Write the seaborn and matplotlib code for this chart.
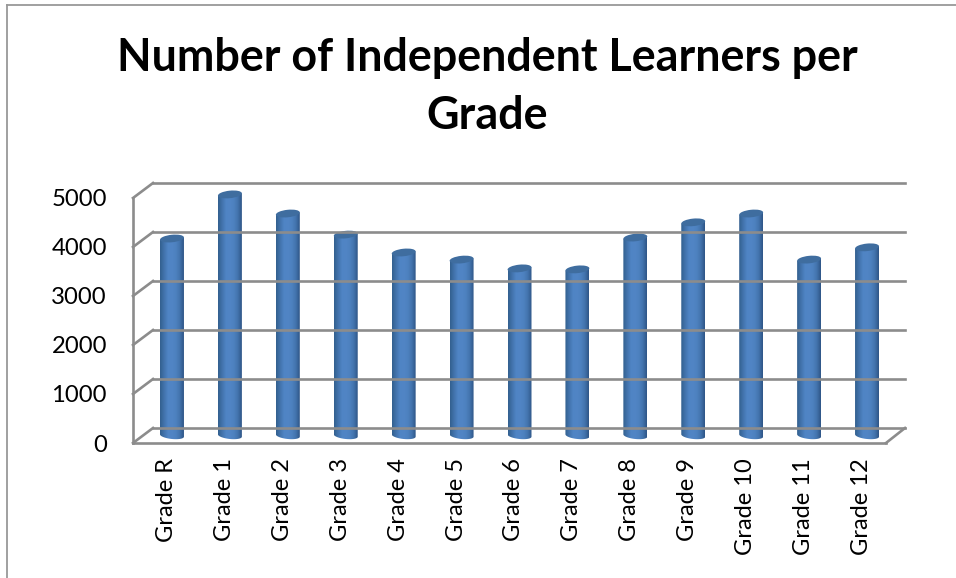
import numpy as np
import pandas as pd
import seaborn as sns
import matplotlib.pyplot as plt
from matplotlib.lines import Line2D
from matplotlib.patches import Ellipse
from matplotlib.path import Path
from matplotlib.transforms import IdentityTransform
from matplotlib.colors import LinearSegmentedColormap

grades = ['Grade R', 'Grade 1', 'Grade 2', 'Grade 3', 'Grade 4', 'Grade 5', 'Grade 6',
          'Grade 7', 'Grade 8', 'Grade 9', 'Grade 10', 'Grade 11', 'Grade 12']
learners = [4020, 4920, 4530, 4100, 3735, 3590, 3410, 3390, 4040, 4350, 4530, 3590, 3840]
y_ticks = [0, 1000, 2000, 3000, 4000, 5000]

W, H = 956, 578
GREY = '#8c8c8c'

sns.set_style('white')
plt.rcParams['font.family'] = ['Lato', 'DejaVu Sans']

fig = plt.figure(figsize=(W / 100, H / 100), dpi=100)

def axes_px(left, right, top, bottom):
    return fig.add_axes([left / W, 1 - bottom / H, (right - left) / W, (bottom - top) / H])

def line_px(x0, y0, x1, y1, lw=1.9, color=GREY):
    fig.add_artist(Line2D([x0 / W, x1 / W], [1 - y0 / H, 1 - y1 / H], color=color, lw=lw,
                          solid_capstyle='projecting'))

# outer chart border
line_px(7, 5, W, 5, lw=1.3, color='#999999')
line_px(7, 5, 7, H, lw=1.3, color='#999999')

# 3d walls, drawn by hand
for i in range(6):
    y_back = 428 - i * 49
    line_px(153, y_back, 905, y_back)
    line_px(133, y_back + 15, 153, y_back)
line_px(133, 198, 133, 443)
line_px(133, 443, 886, 443)
line_px(886, 443, 905, 428)

# front plane carries the labels, like the 3d chart does
front = axes_px(137.5, 890.5, 198, 443)
front.set_ylim(0, 5000)
front.set_xlim(-0.5, 12.5)
front.set_yticks(y_ticks)
front.set_xticks(range(len(grades)))
front.set_xticklabels(grades, rotation=90, ha='center', va='top')
front.tick_params(axis='y', length=0, pad=22, labelsize=17.2, labelcolor='black')
front.tick_params(axis='x', length=0, pad=11, labelsize=17, labelcolor='black')
front.patch.set_alpha(0)
sns.despine(ax=front, left=True, bottom=True)

# bars stand half way through the depth of the floor, the axes reach a bit lower for the round foot
ax = axes_px(143, 896, 190.5, 440.4)
ax.patch.set_alpha(0)
df = pd.DataFrame({'grade': grades, 'learners': learners})
sns.barplot(data=df, x='grade', y='learners', color='#4f81bd', width=0.414, ax=ax, zorder=3)
ax.set_xlim(-0.5, 12.5)
ax.set_ylim(-100, 5000)
ax.set_xlabel('')
ax.set_ylabel('')
ax.set_xticks([])
ax.set_yticks([])
sns.despine(ax=ax, left=True, bottom=True)

cyl = LinearSegmentedColormap.from_list('cyl', ['#33608f', '#4273ac', '#4f84c4', '#5185c5',
                                                '#4d81bf', '#4374ad', '#2f5687'])
shade = np.linspace(0, 1, 64).reshape(1, -1)
fig.canvas.draw()

for bar in ax.patches:
    x0, x1 = bar.get_x(), bar.get_x() + bar.get_width()
    top = bar.get_height()
    (px0, py0), (px1, py1) = ax.transData.transform([(x0, 0), (x1, top)])
    rx, ry = (px1 - px0) / 2, 3.5
    cx = (px0 + px1) / 2
    tilt = 0.1 * rx
    # straight sides, round foot
    t = np.linspace(np.pi, 2 * np.pi, 30)
    foot = np.c_[cx + rx * np.cos(t), py0 + ry * np.sin(t) + tilt * np.cos(t) * -1]
    verts = np.vstack([[(px0, py1 - tilt)], foot, [(px1, py1 + tilt)], [(px0, py1 - tilt)]])
    im = ax.imshow(shade, cmap=cyl, aspect='auto', zorder=4,
                   extent=(x0, x1, -100, top + 100))
    im.set_clip_path(Path(verts), IdentityTransform())
    bar.set_visible(False)
    cap = Ellipse((cx, py1), 2 * rx, 2 * ry + 0.5, angle=6, facecolor='#3f6d9f',
                  edgecolor='none', transform=IdentityTransform(), zorder=5)
    ax.add_artist(cap)

ax.set_xlim(-0.5, 12.5)
ax.set_ylim(-100, 5000)

fig.text(487 / W, 1 - 87 / H, 'Number of Independent Learners per\nGrade', ha='center', va='center',
         fontsize=32.3, fontweight='bold', color='black', linespacing=1.48)

fig.savefig('out.png', dpi=100)
